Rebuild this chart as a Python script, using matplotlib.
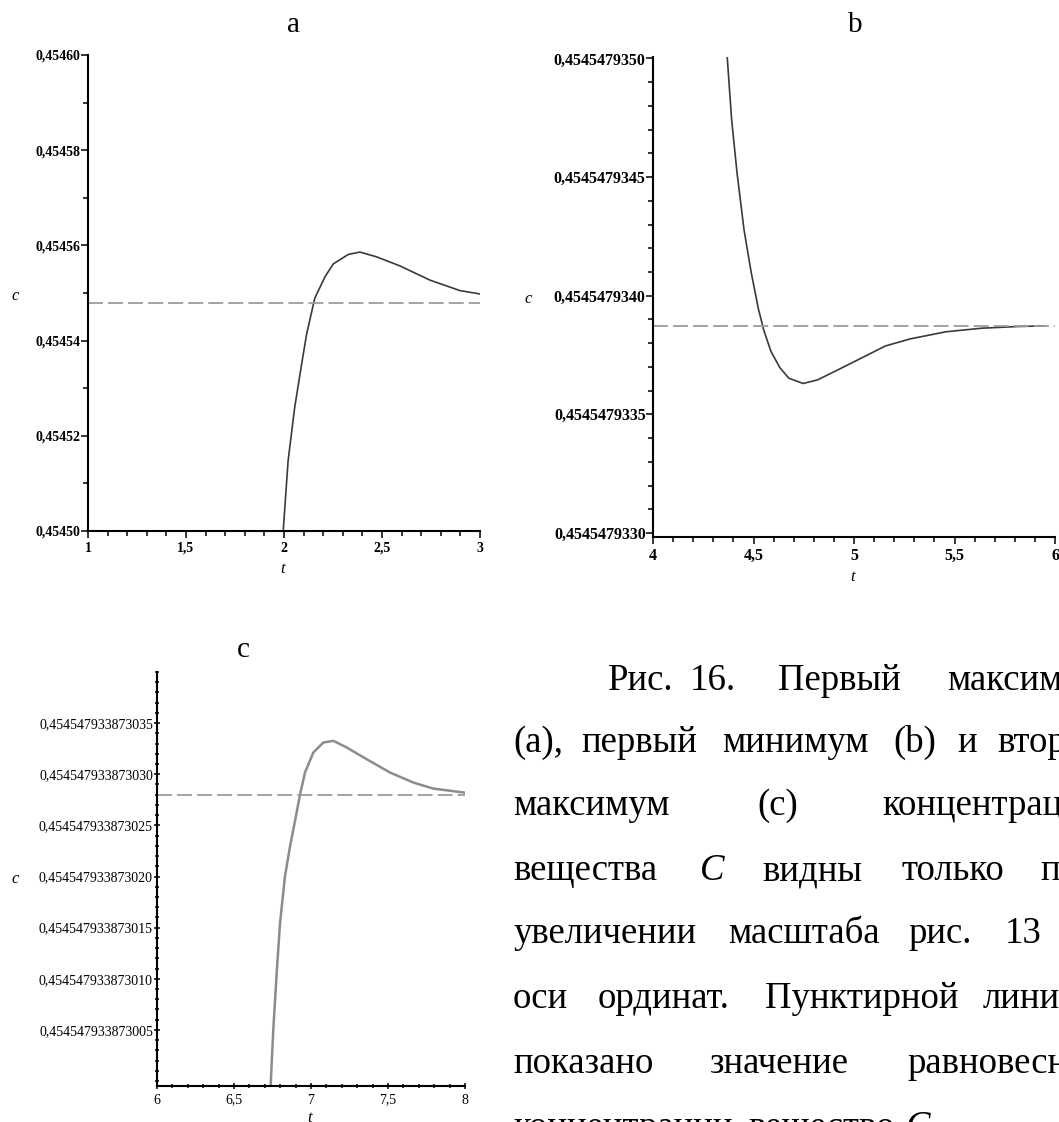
import matplotlib
matplotlib.use("Agg")
import matplotlib.pyplot as plt
from matplotlib.ticker import FixedLocator, MultipleLocator, FuncFormatter

plt.rcParams['font.family'] = ['Liberation Serif', 'DejaVu Serif']

W, H = 1059, 1122

# concentration values are stored as small offsets from a common prefix
# (a: units of 1e-5 after 0.454, b: 1e-10 after 0.45454793,
#  c: 1e-15 after 0.4545479338730) so the float math stays clean

# (a) first maximum
t_a = [1.996, 2.021, 2.055, 2.089, 2.115, 2.157, 2.209, 2.251, 2.328,
       2.387, 2.472, 2.591, 2.745, 2.898, 3.0]
c_a = [50.0, 51.48, 52.61, 53.48, 54.13, 54.89, 55.34, 55.61, 55.81,
       55.86, 55.76, 55.57, 55.27, 55.05, 54.98]
eq_a = 54.79
prefix_a = "0,454"

# (b) first minimum
t_b = [4.368, 4.391, 4.418, 4.453, 4.489, 4.524, 4.551, 4.587, 4.631,
       4.676, 4.747, 4.818, 4.907, 5.013, 5.156, 5.280, 5.458, 5.636,
       5.813, 5.947]
c_b = [50.2, 47.44, 45.18, 42.77, 40.96, 39.46, 38.55, 37.65, 36.97,
       36.52, 36.30, 36.45, 36.82, 37.27, 37.88, 38.18, 38.48, 38.63,
       38.70, 38.73]
eq_b = 38.73
prefix_b = "0,45454793"

# (c) second maximum
t_c = [6.738, 6.755, 6.777, 6.799, 6.831, 6.864, 6.896, 6.929, 6.961,
       7.015, 7.080, 7.145, 7.232, 7.362, 7.513, 7.665, 7.794, 8.0]
c_c = [-0.4, 5.0, 10.56, 15.46, 20.03, 22.97, 25.42, 28.04, 30.17,
       32.13, 33.1, 33.27, 32.62, 31.47, 30.17, 29.19, 28.6, 28.2]
eq_c = 27.94
prefix_c = "0,4545479338730"

xticks_a = [1, 1.5, 2, 2.5, 3]
xticks_b = [4, 4.5, 5, 5.5, 6]
xticks_c = [6, 6.5, 7, 7.5, 8]
yticks_a = [50, 52, 54, 56, 58, 60]
yticks_b = [30, 35, 40, 45, 50]
yticks_c = [5, 10, 15, 20, 25, 30, 35]

caption = [
    (690, [(608, "Рис."), (690, "16."), (778, "Первый"), (947, "максимум")]),
    (752, [(513, "(a),"), (581, "первый"), (722, "минимум"), (893, "(b)"),
           (957, "и"), (997, "второй")]),
    (815, [(513, "максимум"), (757, "(c)"), (882, "концентрации")]),
    (880, [(513, "вещества"), (700, "C"), (762, "видны"), (902, "только"),
           (1040, "при")]),
    (943, [(513, "увеличении"), (728, "масштаба"), (908, "рис."),
           (1005, "13"), (1065, "по")]),
    (1008, [(513, "оси"), (598, "ординат."), (765, "Пунктирной"),
            (983, "линией")]),
    (1073, [(513, "показано"), (710, "значение"), (907, "равновесной")]),
    (1137, [(513, "концентрации"), (748, "вещество"), (906, "C.")]),
]

fig = plt.figure(figsize=(W / 100, H / 100), dpi=100)


def add_box(left, top, right, bottom):
    return fig.add_axes([left / W, 1 - bottom / H,
                         (right - left) / W, (bottom - top) / H])


def px(x, y):
    return x / W, 1 - y / H


def comma(v):
    s = ("%g" % v)
    return s.replace(".", ",")


def maple_axes(ax, t, c, eq, xt, yt, prefix, ylim, fs, weight,
               curve_col, curve_lw, tickdir):
    ax.plot(t, c, color=curve_col, lw=curve_lw)
    ax.axhline(eq, color="#9c9c9c", lw=1.3, dashes=(8.3, 2.8))
    ax.set_xlim(xt[0], xt[-1])
    ax.set_ylim(*ylim)
    for s in ("top", "right"):
        ax.spines[s].set_visible(False)
    for s in ("left", "bottom"):
        ax.spines[s].set_linewidth(1.5)
    ax.xaxis.set_major_locator(FixedLocator(xt))
    ax.xaxis.set_minor_locator(MultipleLocator(0.1))
    ax.yaxis.set_major_locator(FixedLocator(yt))
    ax.yaxis.set_minor_locator(MultipleLocator(1))
    ax.xaxis.set_major_formatter(FuncFormatter(lambda v, p: comma(v)))
    ax.yaxis.set_major_formatter(
        FuncFormatter(lambda v, p: prefix + "%02d" % round(v)))
    ax.tick_params(axis="both", which="major", direction=tickdir,
                   length=4.8, width=1.1, labelsize=fs)
    ax.tick_params(axis="both", which="minor", direction=tickdir,
                   length=3.4, width=1.1)
    ax.tick_params(axis="y", which="major", pad=0.5)
    ax.tick_params(axis="x", which="major", pad=3)
    for lab in ax.get_xticklabels() + ax.get_yticklabels():
        lab.set_fontweight(weight)
    ax.set_facecolor("none")


ax_a = add_box(88, 55, 480, 531)
maple_axes(ax_a, t_a, c_a, eq_a, xticks_a, yticks_a, prefix_a,
           (50, 60), 10, "bold", "#3a3a3a", 1.2, "out")

ax_b = add_box(653, 57, 1055, 537)
maple_axes(ax_b, t_b, c_b, eq_b, xticks_b, yticks_b, prefix_b,
           (29.83, 50.06), 11.5, "bold", "#3a3a3a", 1.2, "out")

ax_c = add_box(157, 672, 465, 1086)
maple_axes(ax_c, t_c, c_c, eq_c, xticks_c, yticks_c, prefix_c,
           (-0.48, 40.0), 10, "normal", "#8c8c8c", 1.8, "inout")

# panel letters and axis names
for x, y, s in [(294, 32, "a"), (855, 32, "b"), (243, 657, "c")]:
    fig.text(*px(x, y), s, fontsize=21, ha="center", va="baseline")

for x, y in [(15, 296), (528, 299), (15, 879)]:
    fig.text(*px(x, y), "c", fontsize=12, style="italic",
             ha="center", va="center")
for x, y in [(283, 569), (853, 577), (310, 1118)]:
    fig.text(*px(x, y), "t", fontsize=12, style="italic",
             ha="center", va="center")

# figure caption
for base, words in caption:
    for x, w in words:
        st = "italic" if w.startswith("C") else "normal"
        fig.text(*px(x, base), w, fontsize=26.5, style=st,
                 ha="left", va="baseline")

fig.savefig("out.png", dpi=100)
